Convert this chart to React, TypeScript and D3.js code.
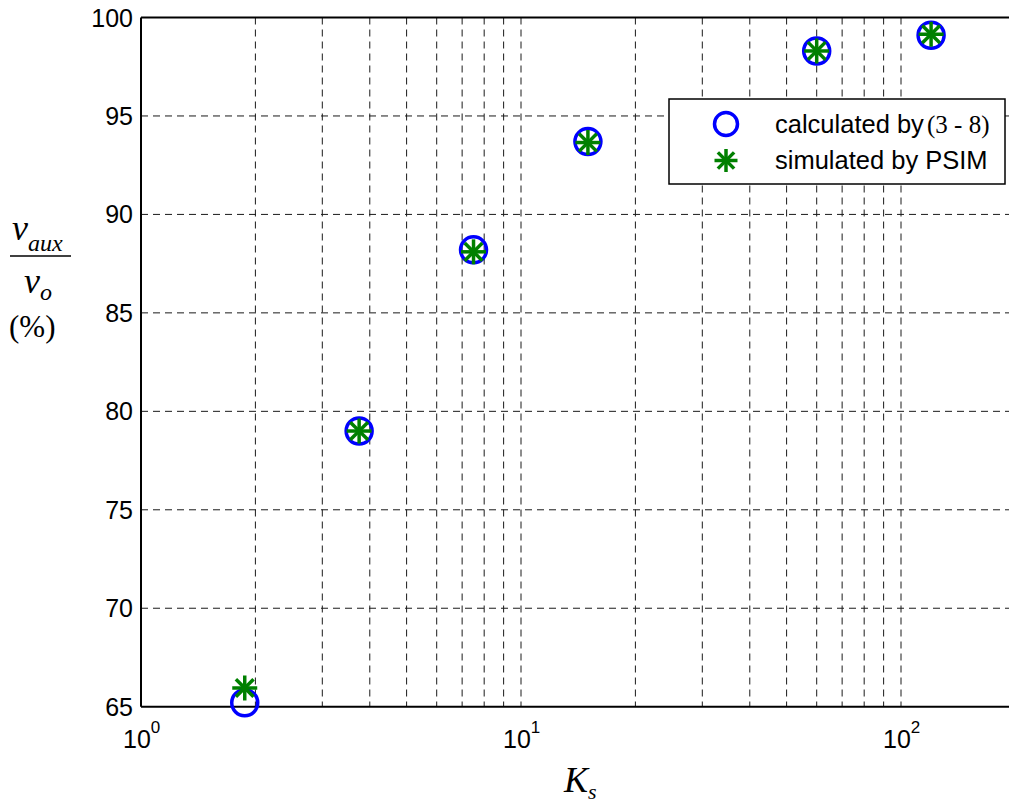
import React, { useEffect, useRef } from 'react';
import * as d3 from 'd3';

// K_s values and the two measured series (%)
const ksValues = [1.875, 3.75, 7.5, 15, 60, 120];
const calculated = [65.2, 79.0, 88.2, 93.7, 98.3, 99.1];
const simulated = [65.95, 79.0, 88.1, 93.65, 98.3, 99.15];
const yTicks = [65, 70, 75, 80, 85, 90, 95, 100];
const xDecades = [1, 10, 100];
const legendLabels = ['calculated by', 'simulated by PSIM'];

const App = () => {
  const svgRef = useRef<SVGSVGElement>(null);

  useEffect(() => {
    const svg = d3.select(svgRef.current);
    svg.selectAll('*').remove();

    const left = 141, top = 17.5, bottom = 706.7;
    const decade = 380;
    const x = d3.scaleLog().domain([1, 200]).range([left, left + Math.log10(200) * decade]);
    const y = d3.scaleLinear().domain([65, 100]).range([bottom, top]);
    const right = x(200);
    const sans = 'Arial, "Liberation Sans", sans-serif';
    const serif = '"Times New Roman", "Liberation Serif", serif';

    // grid
    const minor: number[] = [];
    [1, 10, 100].forEach(d => { for (let k = 2; k <= 9; k++) minor.push(d * k); });
    const vLines = minor.filter(v => v < 200).concat([10, 100]);
    const grid = svg.append('g')
      .attr('stroke', '#1a1a1a').attr('stroke-width', 1).attr('stroke-dasharray', '7,5');
    grid.selectAll('.v').data(vLines).enter().append('line')
      .attr('x1', d => x(d)).attr('x2', d => x(d))
      .attr('y1', top).attr('y2', bottom);
    grid.selectAll('.h').data(yTicks.filter(v => v > 65 && v < 100)).enter().append('line')
      .attr('x1', left).attr('x2', right)
      .attr('y1', d => y(d)).attr('y2', d => y(d));

    // axes box
    const ax = svg.append('g').attr('stroke', '#000').attr('stroke-width', 2).attr('fill', 'none');
    ax.append('line').attr('x1', left).attr('x2', left).attr('y1', top).attr('y2', bottom);
    ax.append('line').attr('x1', left).attr('x2', right).attr('y1', bottom).attr('y2', bottom);
    ax.append('line').attr('x1', left).attr('x2', right).attr('y1', top).attr('y2', top);

    // y tick labels
    svg.append('g').selectAll('text').data(yTicks).enter().append('text')
      .attr('x', 133).attr('y', d => y(d) + 9)
      .attr('text-anchor', 'end').attr('font-family', sans).attr('font-size', 25)
      .text(d => d);

    // x tick labels 10^n
    xDecades.forEach((d, i) => {
      const t = svg.append('text').attr('x', x(d) - 18).attr('y', 748)
        .attr('font-family', sans).attr('font-size', 25);
      t.append('tspan').text('10');
      t.append('tspan').attr('dy', -15).attr('font-size', 17).text(String(i));
    });

    // x axis label
    const kl = svg.append('text').attr('x', 564).attr('y', 792)
      .attr('font-family', serif).attr('font-style', 'italic').attr('font-size', 36);
    kl.append('tspan').text('K');
    kl.append('tspan').attr('dy', 7).attr('font-size', 22).text('s');

    // y axis label as fraction
    const yl = svg.append('g').attr('font-family', serif);
    const num = yl.append('text').attr('x', 12).attr('y', 240)
      .attr('font-style', 'italic').attr('font-size', 36);
    num.append('tspan').text('v');
    num.append('tspan').attr('dy', 11).attr('font-size', 24).text('aux');
    yl.append('line').attr('x1', 10).attr('x2', 71).attr('y1', 256).attr('y2', 256)
      .attr('stroke', '#000').attr('stroke-width', 1.5);
    const den = yl.append('text').attr('x', 24).attr('y', 293)
      .attr('font-style', 'italic').attr('font-size', 36);
    den.append('tspan').text('v');
    den.append('tspan').attr('dy', 7).attr('font-size', 24).text('o');
    yl.append('text').attr('x', 9).attr('y', 337).attr('font-size', 31).text('(%)');

    const star = (g: any, cx: number, cy: number, r: number) => {
      for (let k = 0; k < 4; k++) {
        const a = (k * Math.PI) / 4;
        g.append('line')
          .attr('x1', cx - r * Math.cos(a)).attr('y1', cy - r * Math.sin(a))
          .attr('x2', cx + r * Math.cos(a)).attr('y2', cy + r * Math.sin(a));
      }
    };

    // markers: circles
    svg.append('g').selectAll('circle').data(ksValues).enter().append('circle')
      .attr('cx', d => x(d)).attr('cy', (d, i) => y(calculated[i]))
      .attr('r', 13).attr('fill', 'none').attr('stroke', '#0000ff').attr('stroke-width', 3.5);

    // markers: stars
    const sg = svg.append('g').attr('stroke', '#008000').attr('stroke-width', 3.5);
    ksValues.forEach((d, i) => star(sg, x(d), y(simulated[i]), 12.5));

    // legend
    const lg = svg.append('g');
    lg.append('rect').attr('x', 669).attr('y', 99).attr('width', 336).attr('height', 85)
      .attr('fill', '#fff').attr('stroke', '#000').attr('stroke-width', 1.5);
    lg.append('circle').attr('cx', 726).attr('cy', 124).attr('r', 11.5)
      .attr('fill', 'none').attr('stroke', '#0000ff').attr('stroke-width', 3.5);
    const lsg = lg.append('g').attr('stroke', '#008000').attr('stroke-width', 3.5);
    star(lsg, 726, 160.5, 11.5);
    const t1 = lg.append('text').attr('x', 775).attr('y', 133)
      .attr('font-family', sans).attr('font-size', 25.5);
    t1.append('tspan').text(legendLabels[0]);
    t1.append('tspan').attr('x', 927).attr('font-family', serif).attr('font-size', 25).text('(3 - 8)');
    lg.append('text').attr('x', 775).attr('y', 169)
      .attr('font-family', sans).attr('font-size', 25.5).text(legendLabels[1]);
  }, []);

  return (
    <svg ref={svgRef} width={1009} height={805}
      style={{ position: 'absolute', left: 0, top: 0, background: '#fff', display: 'block' }} />
  );
};

export default App;
